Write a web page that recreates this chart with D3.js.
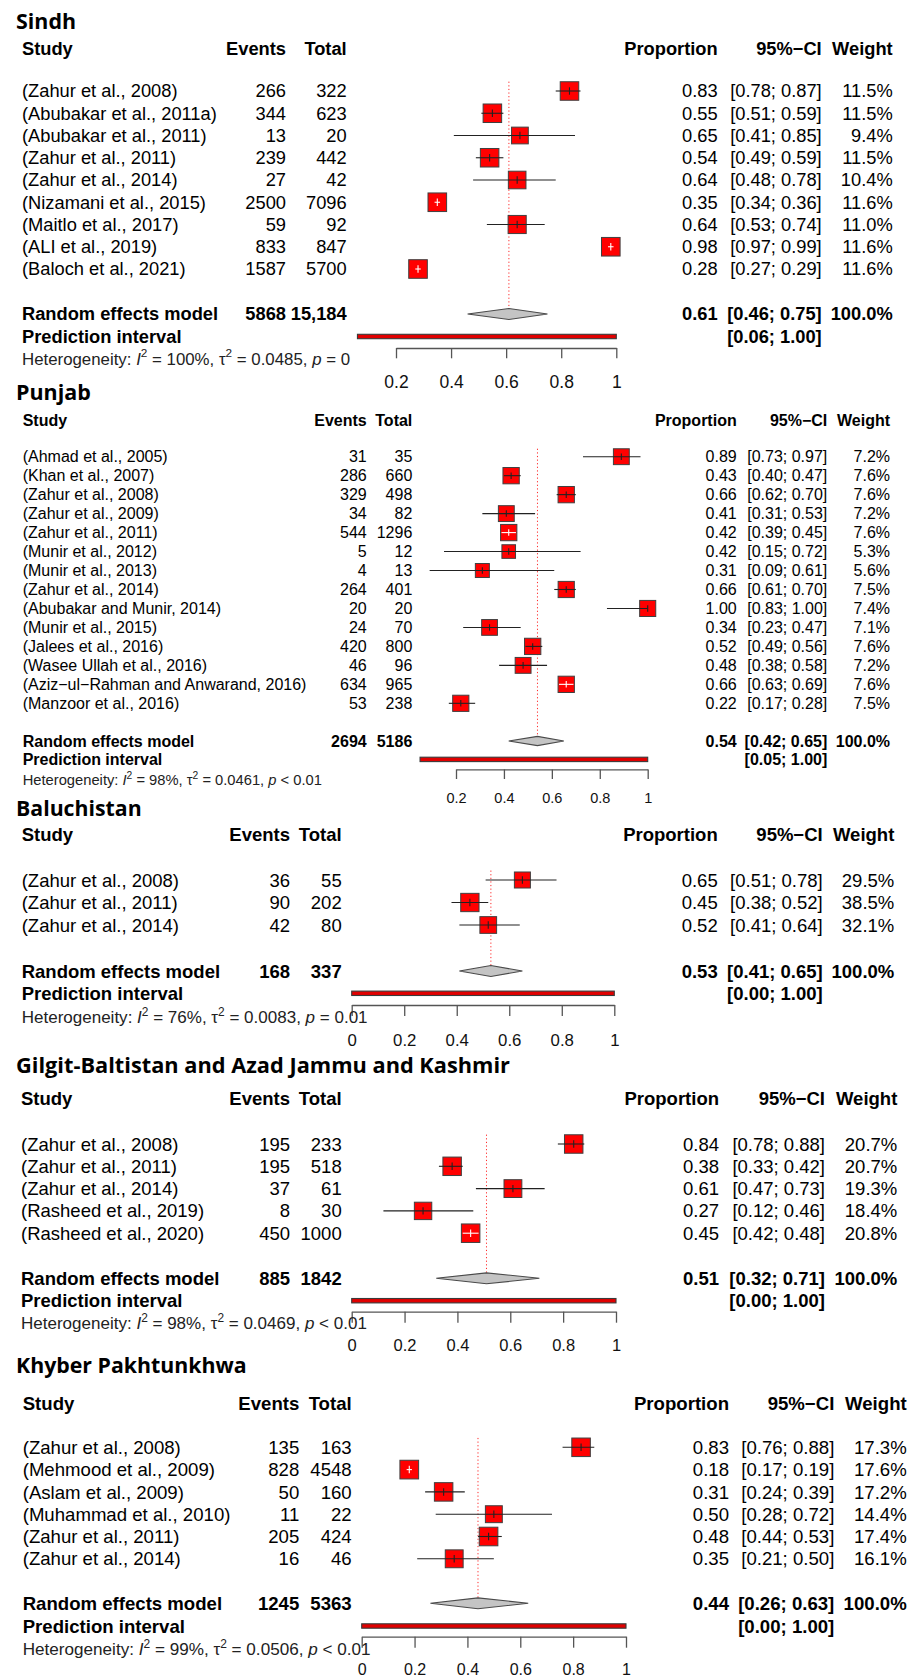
<!DOCTYPE html>
<html>
<head>
<meta charset="utf-8">
<script src="https://cdn.jsdelivr.net/npm/d3@7"></script>
<style>
  body { margin: 0; background: #fff; }
  svg { display: block; }
</style>
</head>
<body>
<svg id="chart" width="910" height="1679"></svg>
<script>
// ---------------- Sindh ----------------
const sindhStudies = ["(Zahur et al., 2008)", "(Abubakar et al., 2011a)", "(Abubakar et al., 2011)",
  "(Zahur et al., 2011)", "(Zahur et al., 2014)", "(Nizamani et al., 2015)", "(Maitlo et al., 2017)",
  "(ALI et al., 2019)", "(Baloch et al., 2021)"];
const sindhEvents = [266, 344, 13, 239, 27, 2500, 59, 833, 1587];
const sindhTotals = [322, 623, 20, 442, 42, 7096, 92, 847, 5700];
const sindhProp   = [0.83, 0.55, 0.65, 0.54, 0.64, 0.35, 0.64, 0.98, 0.28];
const sindhLower  = [0.78, 0.51, 0.41, 0.49, 0.48, 0.34, 0.53, 0.97, 0.27];
const sindhUpper  = [0.87, 0.59, 0.85, 0.59, 0.78, 0.36, 0.74, 0.99, 0.29];
const sindhWeight = [11.5, 11.5, 9.4, 11.5, 10.4, 11.6, 11.0, 11.6, 11.6];
const sindhPooledCounts = ["5868", "15,184"];
const sindhSummary = [0.61, 0.46, 0.75];
const sindhPredInt = [0.06, 1.00];
const sindhHet = ["100%", "0.0485", "= 0"];
const sindhTicks = [0.2, 0.4, 0.6, 0.8, 1];

// ---------------- Punjab ----------------
const punjabStudies = ["(Ahmad et al., 2005)", "(Khan et al., 2007)", "(Zahur et al., 2008)",
  "(Zahur et al., 2009)", "(Zahur et al., 2011)", "(Munir et al., 2012)", "(Munir et al., 2013)",
  "(Zahur et al., 2014)", "(Abubakar and Munir, 2014)", "(Munir et al., 2015)", "(Jalees et al., 2016)",
  "(Wasee Ullah et al., 2016)", "(Aziz\u2212ul\u2212Rahman and Anwarand, 2016)", "(Manzoor et al., 2016)"];
const punjabEvents = [31, 286, 329, 34, 544, 5, 4, 264, 20, 24, 420, 46, 634, 53];
const punjabTotals = [35, 660, 498, 82, 1296, 12, 13, 401, 20, 70, 800, 96, 965, 238];
const punjabProp   = [0.89, 0.43, 0.66, 0.41, 0.42, 0.42, 0.31, 0.66, 1.00, 0.34, 0.52, 0.48, 0.66, 0.22];
const punjabLower  = [0.73, 0.40, 0.62, 0.31, 0.39, 0.15, 0.09, 0.61, 0.83, 0.23, 0.49, 0.38, 0.63, 0.17];
const punjabUpper  = [0.97, 0.47, 0.70, 0.53, 0.45, 0.72, 0.61, 0.70, 1.00, 0.47, 0.56, 0.58, 0.69, 0.28];
const punjabWeight = [7.2, 7.6, 7.6, 7.2, 7.6, 5.3, 5.6, 7.5, 7.4, 7.1, 7.6, 7.2, 7.6, 7.5];
const punjabPooledCounts = ["2694", "5186"];
const punjabSummary = [0.54, 0.42, 0.65];
const punjabPredInt = [0.05, 1.00];
const punjabHet = ["98%", "0.0461", "< 0.01"];
const punjabTicks = [0.2, 0.4, 0.6, 0.8, 1];

// ---------------- Baluchistan ----------------
const baluStudies = ["(Zahur et al., 2008)", "(Zahur et al., 2011)", "(Zahur et al., 2014)"];
const baluEvents = [36, 90, 42];
const baluTotals = [55, 202, 80];
const baluProp   = [0.65, 0.45, 0.52];
const baluLower  = [0.51, 0.38, 0.41];
const baluUpper  = [0.78, 0.52, 0.64];
const baluWeight = [29.5, 38.5, 32.1];
const baluPooledCounts = ["168", "337"];
const baluSummary = [0.53, 0.41, 0.65];
const baluPredInt = [0.00, 1.00];
const baluHet = ["76%", "0.0083", "= 0.01"];
const baluTicks = [0, 0.2, 0.4, 0.6, 0.8, 1];

// ---------------- Gilgit-Baltistan and AJK ----------------
const gbStudies = ["(Zahur et al., 2008)", "(Zahur et al., 2011)", "(Zahur et al., 2014)",
  "(Rasheed et al., 2019)", "(Rasheed et al., 2020)"];
const gbEvents = [195, 195, 37, 8, 450];
const gbTotals = [233, 518, 61, 30, 1000];
const gbProp   = [0.84, 0.38, 0.61, 0.27, 0.45];
const gbLower  = [0.78, 0.33, 0.47, 0.12, 0.42];
const gbUpper  = [0.88, 0.42, 0.73, 0.46, 0.48];
const gbWeight = [20.7, 20.7, 19.3, 18.4, 20.8];
const gbPooledCounts = ["885", "1842"];
const gbSummary = [0.51, 0.32, 0.71];
const gbPredInt = [0.00, 1.00];
const gbHet = ["98%", "0.0469", "< 0.01"];
const gbTicks = [0, 0.2, 0.4, 0.6, 0.8, 1];

// ---------------- Khyber Pakhtunkhwa ----------------
const kpStudies = ["(Zahur et al., 2008)", "(Mehmood et al., 2009)", "(Aslam et al., 2009)",
  "(Muhammad et al., 2010)", "(Zahur et al., 2011)", "(Zahur et al., 2014)"];
const kpEvents = [135, 828, 50, 11, 205, 16];
const kpTotals = [163, 4548, 160, 22, 424, 46];
const kpProp   = [0.83, 0.18, 0.31, 0.50, 0.48, 0.35];
const kpLower  = [0.76, 0.17, 0.24, 0.28, 0.44, 0.21];
const kpUpper  = [0.88, 0.19, 0.39, 0.72, 0.53, 0.50];
const kpWeight = [17.3, 17.6, 17.2, 14.4, 17.4, 16.1];
const kpPooledCounts = ["1245", "5363"];
const kpSummary = [0.44, 0.26, 0.63];
const kpPredInt = [0.00, 1.00];
const kpHet = ["99%", "0.0506", "< 0.01"];
const kpTicks = [0, 0.2, 0.4, 0.6, 0.8, 1];

// ---------------- panel geometry ----------------
const panels = [
  { title: "Sindh", studies: sindhStudies, events: sindhEvents, totals: sindhTotals,
    prop: sindhProp, lo: sindhLower, hi: sindhUpper, weight: sindhWeight,
    pooled: sindhPooledCounts, summary: sindhSummary, pred: sindhPredInt, het: sindhHet, ticks: sindhTicks,
    L: { titleY: 29, titleLen: 60, fs: 18.3, headY: 54.5, row1: 91, step: 22.25, reY: 314, piY: 336.5,
         hetY: 364.5, axisY: 348, tickLen: 10.3, tickLabY: 381.7, tickFs: 17.5,
         range: [396, 616.3], cols: [22, 286, 346.7, 717.7, 821.7, 892.7], boxMax: 18.6 } },
  { title: "Punjab", studies: punjabStudies, events: punjabEvents, totals: punjabTotals,
    prop: punjabProp, lo: punjabLower, hi: punjabUpper, weight: punjabWeight,
    pooled: punjabPooledCounts, summary: punjabSummary, pred: punjabPredInt, het: punjabHet, ticks: punjabTicks,
    L: { titleY: 400, titleLen: 74.7, fs: 16, headY: 425.7, row1: 456.7, step: 18.97, reY: 741, piY: 759.4,
         hetY: 785, axisY: 769.4, tickLen: 9.6, tickLabY: 797.7, tickFs: 14.5,
         range: [456, 647.7], cols: [22.7, 366.7, 412.3, 736.7, 827.3, 890], boxMax: 16.3 } },
  { title: "Baluchistan", studies: baluStudies, events: baluEvents, totals: baluTotals,
    prop: baluProp, lo: baluLower, hi: baluUpper, weight: baluWeight,
    pooled: baluPooledCounts, summary: baluSummary, pred: baluPredInt, het: baluHet, ticks: baluTicks,
    L: { titleY: 816, titleLen: 125.7, fs: 18.5, headY: 840.7, row1: 880, step: 22.5, reY: 971, piY: 993.3,
         hetY: 1023.3, axisY: 1005, tickLen: 11, tickLabY: 1040, tickFs: 16.8,
         range: [351.7, 614.3], cols: [21.7, 290, 341.7, 717.7, 822.7, 894.3], boxMax: 18.3 } },
  { title: "Gilgit-Baltistan and Azad Jammu and Kashmir", studies: gbStudies, events: gbEvents, totals: gbTotals,
    prop: gbProp, lo: gbLower, hi: gbUpper, weight: gbWeight,
    pooled: gbPooledCounts, summary: gbSummary, pred: gbPredInt, het: gbHet, ticks: gbTicks,
    L: { titleY: 1072.7, titleLen: 494, fs: 18.5, headY: 1105, row1: 1144, step: 22.3, reY: 1278.3, piY: 1300.7,
         hetY: 1329.3, axisY: 1311.7, tickLen: 11, tickLabY: 1345, tickFs: 16.5,
         range: [351.7, 616], cols: [21, 290, 341.7, 719, 825, 897.3], boxMax: 18.5 } },
  { title: "Khyber Pakhtunkhwa", studies: kpStudies, events: kpEvents, totals: kpTotals,
    prop: kpProp, lo: kpLower, hi: kpUpper, weight: kpWeight,
    pooled: kpPooledCounts, summary: kpSummary, pred: kpPredInt, het: kpHet, ticks: kpTicks,
    L: { titleY: 1373.3, titleLen: 230.7, fs: 18.6, headY: 1410, row1: 1447.3, step: 22.3, reY: 1603.3, piY: 1626,
         hetY: 1655, axisY: 1636.7, tickLen: 11, tickLabY: 1669, tickFs: 16,
         range: [361.7, 626], cols: [22.7, 299.3, 351.7, 729, 834.3, 906.7], boxMax: 18.7 } }
];

const svg = d3.select("#chart");
const BODY_FONT = "'Liberation Sans', Arial, Helvetica, sans-serif";
const TITLE_FONT = "'Open Sans', 'Noto Sans', sans-serif";
const fmt2 = d3.format(".2f");
const fmtW = w => d3.format(".1f")(w) + "%";
const fmtCI = (a, b) => "[" + fmt2(a) + "; " + fmt2(b) + "]";

function drawPanel(p) {
  const L = p.L;
  const g = svg.append("g").attr("class", "panel");
  const x = d3.scaleLinear().domain([p.ticks[0], p.ticks[p.ticks.length - 1]]).range(L.range);
  const base = cy => cy + 0.355 * L.fs;     // text baseline for a row centred at cy
  const [cStudy, cEvents, cTotal, cProp, cCI, cWeight] = L.cols;

  const text = (xx, yy, s, anchor, bold) => g.append("text")
    .attr("x", xx).attr("y", yy)
    .attr("text-anchor", anchor)
    .attr("font-family", BODY_FONT)
    .attr("font-size", L.fs)
    .attr("font-weight", bold ? 700 : 400)
    .attr("fill", "#000")
    .text(s);

  // panel title
  g.append("text")
    .attr("x", 16).attr("y", L.titleY)
    .attr("font-family", TITLE_FONT)
    .attr("font-weight", 700)
    .attr("font-size", 22)
    .attr("textLength", L.titleLen)
    .attr("lengthAdjust", "spacingAndGlyphs")
    .attr("fill", "#000")
    .text(p.title);

  // column headers
  text(cStudy, L.headY, "Study", "start", true);
  text(cEvents, L.headY, "Events", "end", true);
  text(cTotal, L.headY, "Total", "end", true);
  text(cProp, L.headY, "Proportion", "end", true);
  text(cCI, L.headY, "95%\u2212CI", "end", true);
  text(cWeight, L.headY, "Weight", "end", true);

  const rowY = i => L.row1 + i * L.step;
  const wMax = d3.max(p.weight);

  // reference line at the pooled estimate
  const halfDiamond = 0.245 * L.step;
  g.append("line")
    .attr("x1", x(p.summary[0])).attr("x2", x(p.summary[0]))
    .attr("y1", L.row1 - 0.42 * L.step).attr("y2", L.reY + halfDiamond)
    .attr("stroke", "#ff2a2a").attr("stroke-width", 1)
    .attr("stroke-dasharray", "1.2,2.4");

  // study rows
  p.studies.forEach((s, i) => {
    const cy = rowY(i);
    const by = base(cy);
    text(cStudy, by, s, "start", false);
    text(cEvents, by, p.events[i], "end", false);
    text(cTotal, by, p.totals[i], "end", false);
    text(cProp, by, fmt2(p.prop[i]), "end", false);
    text(cCI, by, fmtCI(p.lo[i], p.hi[i]), "end", false);
    text(cWeight, by, fmtW(p.weight[i]), "end", false);

    const side = L.boxMax * Math.sqrt(p.weight[i] / wMax);
    const cx = x(p.prop[i]);
    const xl = x(p.lo[i]), xh = x(p.hi[i]);
    const inside = xl >= cx - side / 2 && xh <= cx + side / 2;
    const col = inside ? "#ffffff" : "#222";

    g.append("rect")
      .attr("x", cx - side / 2).attr("y", cy - side / 2)
      .attr("width", side).attr("height", side)
      .attr("fill", "#ff0000").attr("stroke", "#404040").attr("stroke-width", 1);
    g.append("line")
      .attr("x1", xl).attr("x2", xh).attr("y1", cy).attr("y2", cy)
      .attr("stroke", col).attr("stroke-width", 1.1);
    const t = 0.2 * L.boxMax;
    g.append("line")
      .attr("x1", cx).attr("x2", cx).attr("y1", cy - t).attr("y2", cy + t)
      .attr("stroke", col).attr("stroke-width", 1.1);
  });

  // random effects model
  const rb = base(L.reY);
  text(cStudy, rb, "Random effects model", "start", true);
  text(cEvents, rb, p.pooled[0], "end", true);
  text(cTotal, rb, p.pooled[1], "end", true);
  text(cProp, rb, fmt2(p.summary[0]), "end", true);
  text(cCI, rb, fmtCI(p.summary[1], p.summary[2]), "end", true);
  text(cWeight, rb, "100.0%", "end", true);

  g.append("polygon")
    .attr("points", [
      [x(p.summary[1]), L.reY], [x(p.summary[0]), L.reY - halfDiamond],
      [x(p.summary[2]), L.reY], [x(p.summary[0]), L.reY + halfDiamond]
    ].map(d => d.join(",")).join(" "))
    .attr("fill", "#c4c4c4").attr("stroke", "#4a4a4a").attr("stroke-width", 1.1);

  // prediction interval
  text(cStudy, base(L.piY), "Prediction interval", "start", true);
  text(cCI, base(L.piY), fmtCI(p.pred[0], p.pred[1]), "end", true);
  g.append("rect")
    .attr("x", x(p.pred[0])).attr("y", L.piY - 2.2)
    .attr("width", x(p.pred[1]) - x(p.pred[0])).attr("height", 4.4)
    .attr("fill", "#e00000").attr("stroke", "#3a3a3a").attr("stroke-width", 1.1);

  // x axis
  const axis = d3.axisBottom(x)
    .tickValues(p.ticks)
    .tickSize(L.tickLen)
    .tickSizeOuter(0)
    .tickFormat(d => String(d));
  const ax = g.append("g")
    .attr("transform", `translate(0,${L.axisY})`)
    .call(axis);
  ax.select(".domain").attr("stroke", "#555").attr("stroke-width", 1.3);
  ax.selectAll(".tick line").attr("stroke", "#555").attr("stroke-width", 1.3);
  ax.selectAll(".tick text")
    .attr("y", L.tickLabY - L.axisY + 0.36 * L.tickFs)
    .attr("dy", null)
    .attr("font-family", BODY_FONT)
    .attr("font-size", L.tickFs)
    .attr("fill", "#111");
  ax.attr("font-family", null).attr("font-size", null);

  // heterogeneity statement
  const hfs = 0.92 * L.fs;
  const sup = 0.42 * hfs;
  const het = g.append("text")
    .attr("x", cStudy).attr("y", L.hetY)
    .attr("font-family", BODY_FONT)
    .attr("font-size", hfs)
    .attr("fill", "#222");
  het.append("tspan").text("Heterogeneity: ");
  het.append("tspan").attr("font-style", "italic").text("I");
  het.append("tspan").attr("font-size", hfs * 0.7).attr("dy", -sup).text("2");
  het.append("tspan").attr("dy", sup).text(" = " + p.het[0] + ", \u03c4");
  het.append("tspan").attr("font-size", hfs * 0.7).attr("dy", -sup).text("2");
  het.append("tspan").attr("dy", sup).text(" = " + p.het[1] + ", ");
  het.append("tspan").attr("font-style", "italic").text("p");
  het.append("tspan").text(" " + p.het[2]);
}

panels.forEach(drawPanel);
</script>
</body>
</html>
